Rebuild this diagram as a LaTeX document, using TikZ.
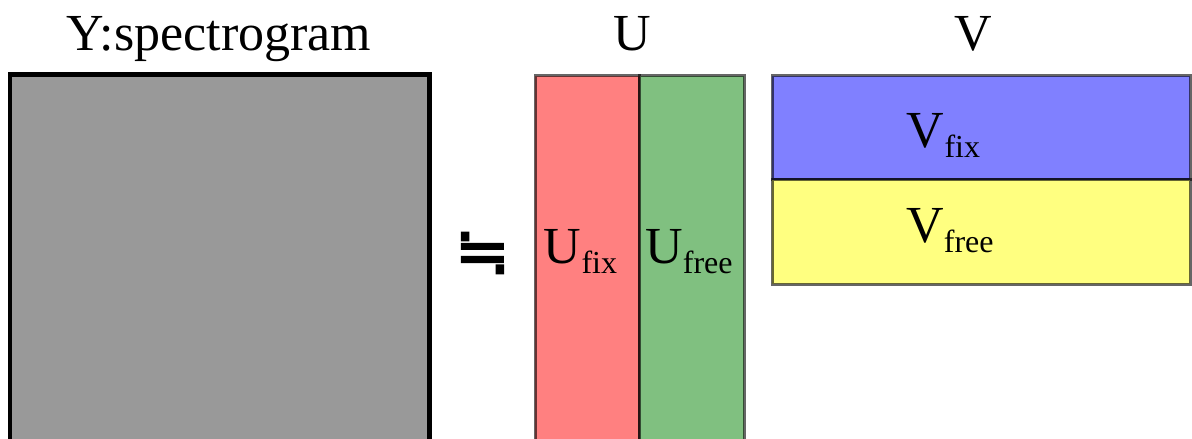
\documentclass[tikz,border=0pt]{standalone}
\usepackage{fontspec}
\setmainfont{Liberation Serif}
\newfontfamily\symfont[FakeBold=2.5]{DejaVu Sans}
\newcommand{\mysub}[1]{\raisebox{-0.2em}{\fontsize{32}{32}\selectfont #1}}
\tikzset{
  edge/.style={draw=black, draw opacity=0.6, line width=3pt},
  big/.style={font=\fontsize{52}{52}\selectfont, inner sep=0pt, anchor=base},
}
\begin{document}
\begin{tikzpicture}[x=1pt, y=-1pt]
\useasboundingbox (0,0) rectangle (1192,439);
% Y spectrogram
\fill[fill={rgb,255:red,153;green,153;blue,153}] (10,74.5) rectangle (429.5,470);
\draw[line width=4.5pt] (10,74.5) rectangle (429.5,470);
\node[big] (ytitle) at (219,50) {Y:spectrogram};
% approx symbol
\node[inner sep=0pt, font=\symfont\fontsize{66}{66}\selectfont] (approx) at (482.5,253) {≒};
% U
\node[big] (utitle) at (632.5,50) {U};
\path[fill={rgb,255:red,255;green,128;blue,128}, edge] (535,75.5) rectangle (639.5,470);
\path[fill={rgb,255:red,128;green,192;blue,128}, edge] (639.5,75.5) rectangle (744,470);
\node[big] (ufix) at (580.5,263) {U\mysub{fix}};
\node[big] (ufree) at (689,263) {U\mysub{free}};
% V
\node[big] (vtitle) at (973,50) {V};
\path[fill={rgb,255:red,128;green,128;blue,255}, edge] (772,75.5) rectangle (1190,179.5);
\path[fill={rgb,255:red,255;green,255;blue,128}, edge] (772,179.5) rectangle (1190,284);
\node[big] (vfix) at (943.5,147) {V\mysub{fix}};
\node[big] (vfree) at (950,242) {V\mysub{free}};
\end{tikzpicture}
\end{document}
